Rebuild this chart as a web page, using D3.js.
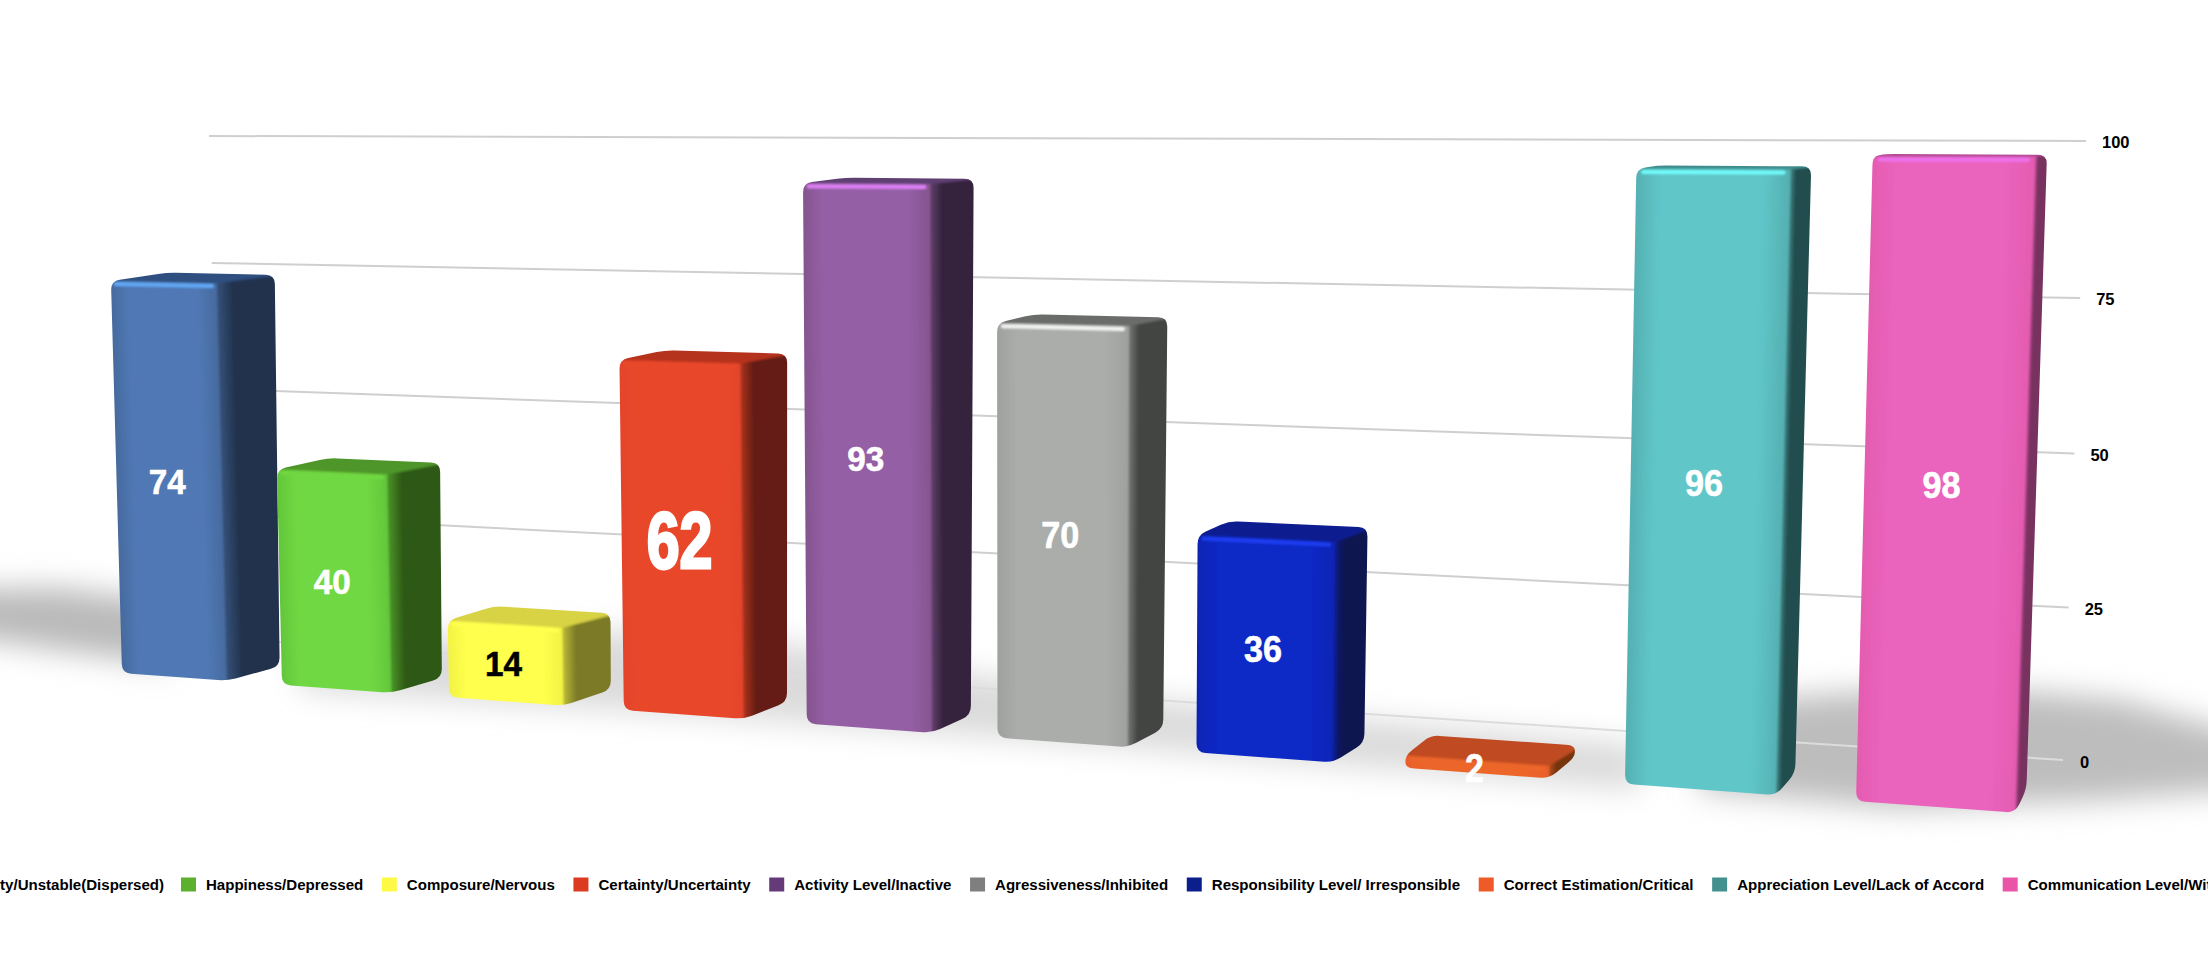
<!DOCTYPE html>
<html><head><meta charset="utf-8"><title>Personality bars</title>
<style>html,body{margin:0;padding:0;background:#fff;overflow:hidden}svg{display:block}text{font-family:"Liberation Sans",Arial,sans-serif;font-weight:700}</style>
<script src="https://cdn.jsdelivr.net/npm/d3@7/dist/d3.min.js"></script>
</head><body><svg id="c" width="2208" height="966"></svg>
<script>
const categories=["Stability/Unstable(Dispersed)","Happiness/Depressed","Composure/Nervous","Certainty/Uncertainty","Activity Level/Inactive","Agressiveness/Inhibited","Responsibility Level/ Irresponsible","Correct Estimation/Critical","Appreciation Level/Lack of Accord","Communication Level/Withdrawn"];
const values=[74,40,14,62,93,70,36,2,96,98];
const tickValues=[0,25,50,75,100];

const legendColors=["#3f67a8","#5bb030","#fdf945","#dc3b22","#653a78","#7f7f7f","#0b1f8c","#ee5a28","#43908f","#ea55a8"];
const frontColors=["#5078b4","#70d842","#ffff4e","#e8472c","#955fa6","#abadab","#1129c6","#ec662c","#60c6c8","#ea63bd"];
const frontEdge=["#466a9e","#62c63a","#f2f244","#e4452a","#85558f","#9fa19f","#0f24b4","#e8602a","#55b0b2","#e45cb0"];
const sideColors=["#22334d","#2e5815","#7c7a28","#651e12","#36243e","#424442","#0c154f","#763410","#234e4f","#78305f"];
const topColors=["#2d4f80","#4f962a","#d8d244","#b5331e","#5f3f72","#6a6c6a","#0d1f8f","#c04b20","#3f8d8d","#b04a92"];
const glowColors=["#62a8f5","#70d842","#ffff4e","#e8472c","#de80f6","#f2f4f2","#1f3ef2","#ec662c","#72fbfb","#ef72ee"];
const labelColors=["#fff","#fff","#000","#fff","#fff","#fff","#fff","#fff","#fff","#fff"];
const labelSizes=[35,35,35,80,35,36,36,40,36,36];
const labelStretch=[.95,.95,.95,.74,.95,.95,.95,.85,.95,.95];
const frontWidth=.66, backWidth=.68;

function quadMap(bl,br,tr,tl){
  const [x0,y0]=bl,[x1,y1]=br,[x2,y2]=tr,[x3,y3]=tl;
  const dx1=x1-x2,dx2=x3-x2,sx=x0-x1+x2-x3,dy1=y1-y2,dy2=y3-y2,sy=y0-y1+y2-y3;
  const den=dx1*dy2-dx2*dy1,g=(sx*dy2-dx2*sy)/den,h=(dx1*sy-sx*dy1)/den;
  const a=x1-x0+g*x1,b=x3-x0+h*x3,c=x0,d=y1-y0+g*y1,e=y3-y0+h*y3,f=y0;
  return (s,t)=>{const w=g*s+h*t+1;return [(a*s+b*t+c)/w,(d*s+e*t+f)/w];};
}
const uFront=d3.scaleLinear().domain([0,4.5,9]).range([0,.5025,1]);
const uBack=d3.scaleLinear().domain([0,4.5,9]).range([0,.4995,1]);
const vScale=d3.scaleLinear().domain([0,100]).range([0,1]);
const frontQ=quadMap([122,673],[1856,801],[1873,143],[107,141]);
const backQ=quadMap([173,659],[1868,778],[1886,141],[165,135]);
const wallQ=quadMap([220,638],[2063,760],[2086,141],[209,136]);
const F=(u,v)=>frontQ(uFront(u),vScale(v));
const B=(u,v)=>backQ(uBack(u),vScale(v));
const W=(s,v)=>wallQ(s,vScale(v));

const svg=d3.select("#c");
const defs=svg.append("defs");
[["b1",1.3],["s14",15]].forEach(([id,sd])=>{
  defs.append("filter").attr("id",id).attr("x","-30%").attr("y","-60%").attr("width","160%").attr("height","220%")
    .append("feGaussianBlur").attr("stdDeviation",sd);
});

// floor shadows
const shadows=[
 {p:[[-80,590],[60,588],[150,600],[170,665],[60,650],[-80,630]],c:"#b9b9b9"},
 {p:[[1700,705],[1950,685],[2120,700],[2300,750],[2300,785],[2100,800],[1900,808],[1700,790]],c:"#bdbdbd"},
 {p:[[300,640],[700,630],[1100,695],[1640,745],[1640,790],[1100,745],[700,715],[300,690]],c:"#dadada"}
];
svg.append("g").selectAll("path").data(shadows).join("path")
  .attr("d",d=>d3.line()(d.p)+"Z").attr("fill",d=>d.c).attr("filter","url(#s14)");

// grid and tick labels
const grid=svg.append("g");
grid.selectAll("line").data(tickValues).join("line")
  .attr("x1",d=>W(0,d)[0]).attr("y1",d=>W(0,d)[1]).attr("x2",d=>W(1,d)[0]).attr("y2",d=>W(1,d)[1])
  .attr("stroke",d=>d===0?"#dcdcdc":"#cfcfcf").attr("stroke-width",2);
grid.selectAll("text").data(tickValues).join("text")
  .attr("x",d=>W(1,d)[0]+(d===0?17:16)).attr("y",d=>W(1,d)[1]+(d===0?8:7))
  .attr("font-size",16.5).attr("fill","#000").text(d=>d);

function rounded(pts,r){
  let d="";
  pts.forEach((p,i)=>{
    const a=pts[(i+pts.length-1)%pts.length],b=pts[(i+1)%pts.length];
    const la=Math.hypot(a[0]-p[0],a[1]-p[1]),lb=Math.hypot(b[0]-p[0],b[1]-p[1]);
    const ra=Math.min(r,la*.42),rb=Math.min(r,lb*.42);
    const s=[p[0]+(a[0]-p[0])*ra/la,p[1]+(a[1]-p[1])*ra/la],e=[p[0]+(b[0]-p[0])*rb/lb,p[1]+(b[1]-p[1])*rb/lb];
    d+=(i?"L":"M")+s+"Q"+p+" "+e;
  });
  return d+"Z";
}
function edgeGrad(id,a,b,edgeTop,edgeBot,stops){
  const ex=edgeTop[0]-edgeBot[0],ey=edgeTop[1]-edgeBot[1],l=Math.hypot(ex,ey);
  const nx=-ey/l,ny=ex/l,sgn=(b[0]-a[0])*nx+(b[1]-a[1])*ny;
  const g=defs.append("linearGradient").attr("id",id).attr("gradientUnits","userSpaceOnUse")
    .attr("x1",a[0]).attr("y1",a[1]).attr("x2",a[0]+nx*sgn).attr("y2",a[1]+ny*sgn);
  stops.forEach(([o,c])=>g.append("stop").attr("offset",o).attr("stop-color",c));
}
const polyD=p=>d3.line()(p)+"Z";

const bars=svg.append("g");
values.forEach((v,i)=>{
  const FLb=F(i,0),FRb=F(i+frontWidth,0),FRt=F(i+frontWidth,v),FLt=F(i,v);
  const BRb=B(i+backWidth,0),BRt=B(i+backWidth,v),BLt=B(i,v);
  const mid=(a,b)=>[(a[0]+b[0])/2,(a[1]+b[1])/2];
  edgeGrad("fg"+i,mid(FLb,FLt),mid(FRb,FRt),FLt,FLb,[[0,frontEdge[i]],[.16,frontColors[i]],[.82,frontColors[i]],[1,frontEdge[i]]]);
  edgeGrad("sg"+i,mid(FRb,FRt),mid(BRb,BRt),FRt,FRb,[[0,d3.interpolateRgb(frontEdge[i],sideColors[i])(.45)],[.28,sideColors[i]],[1,sideColors[i]]]);
  const clipId="clip"+i;
  defs.append("clipPath").attr("id",clipId).append("path")
    .attr("d",rounded([FLb,FRb,BRb,BRt,BLt,FLt],9));
  const g=bars.append("g").attr("clip-path",`url(#${clipId})`);
  const inner=g.append("g").attr("filter","url(#b1)");
  const off=8;
  inner.append("path").attr("d",polyD([FLb,FRb,BRb,BRt,BLt,FLt])).attr("fill","url(#fg"+i+")").attr("stroke","url(#fg"+i+")").attr("stroke-width",off*2);
  inner.append("path").attr("d",polyD([FRb,[FRb[0],FRb[1]+off],[BRb[0]+off,BRb[1]+off],[BRt[0]+off,BRt[1]-off],FRt])).attr("fill","url(#sg"+i+")");
  inner.append("path").attr("d",polyD([[FLt[0]-off,FLt[1]],FLt,FRt,[BRt[0]+off,BRt[1]],[BRt[0]+off,BRt[1]-off],[BLt[0],BLt[1]-off],[FLt[0]-off,BLt[1]-off]])).attr("fill",topColors[i]);
  const a=F(i+.03,v),b=F(i+frontWidth-.03,v);
  inner.append("line").attr("x1",a[0]).attr("y1",a[1]+3).attr("x2",b[0]).attr("y2",b[1]+3)
    .attr("stroke",glowColors[i]).attr("stroke-width",4).attr("stroke-linecap","round");
});

// value labels
const labels=svg.append("g");
values.forEach((v,i)=>{
  const p=F(i+.32,v/2);
  labels.append("text").attr("transform",`translate(${p[0]},${p[1]+.5}) scale(${labelStretch[i]},1)`)
    .attr("text-anchor","middle").attr("dy",".36em").attr("font-size",labelSizes[i])
    .attr("fill",labelColors[i]).attr("stroke",labelColors[i]).attr("stroke-width",i===3?3:.6).text(v);
});

// legend
const legendY=884.5,legend=svg.append("g");
const items=legend.selectAll("g").data(categories).join("g");
items.append("rect").attr("width",15).attr("height",14).attr("y",-7).attr("fill",(d,i)=>legendColors[i]);
const txt=items.append("text").attr("x",25).attr("y",5.5).attr("font-size",15.05).attr("fill","#000").text(d=>d);
const widths=txt.nodes().map(n=>n.getComputedTextLength());
let xs=[181];
for(let i=2;i<categories.length;i++) xs[i-1]=xs[i-2]+25+widths[i-1]+18.6;
xs.unshift(181-(25+widths[0]+17));
items.attr("transform",(d,i)=>`translate(${xs[i]},${legendY})`);
</script></body></html>
